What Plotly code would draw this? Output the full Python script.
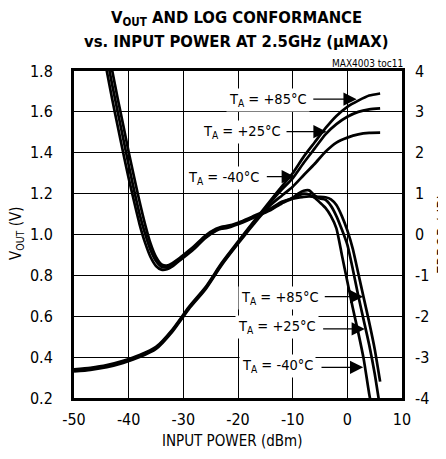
import plotly.graph_objects as go

# ---- data ----
pin_v = [-50, -47, -44, -41, -38, -35, -32, -29, -26, -23, -20, -17, -14, -12, -10, -8, -6, -4, -2, 0, 2, 4, 6]
vout_p85 = [0.340, 0.348, 0.361, 0.382, 0.410, 0.450, 0.535, 0.645, 0.740, 0.860, 0.965, 1.068, 1.168, 1.235, 1.300, 1.380, 1.450, 1.520, 1.580, 1.625, 1.655, 1.680, 1.690]
vout_p25 = [0.335, 0.343, 0.356, 0.377, 0.405, 0.445, 0.530, 0.640, 0.735, 0.855, 0.960, 1.063, 1.160, 1.220, 1.275, 1.350, 1.420, 1.490, 1.540, 1.576, 1.600, 1.612, 1.617]
vout_m40 = [0.330, 0.338, 0.351, 0.372, 0.400, 0.440, 0.525, 0.635, 0.730, 0.850, 0.955, 1.055, 1.145, 1.190, 1.234, 1.290, 1.345, 1.405, 1.450, 1.474, 1.490, 1.497, 1.498]

pin_e = [-45, -44, -43, -42, -41, -40, -39, -38, -37, -36, -35, -34, -33, -32, -31, -30, -28, -26, -24, -23, -22,
         -20, -18, -16, -14, -12, -10, -9, -8, -7, -6, -5, -4, -3, -2, -1, 0, 1, 2, 3, 4, 5, 6]
err_p85 = [5.40, 4.70, 4.00, 3.32, 2.68, 2.02, 1.40, 0.80, 0.25, -0.22, -0.55, -0.73, -0.76, -0.70, -0.61, -0.50, -0.28, -0.03, 0.14, 0.19, 0.21,
           0.29, 0.40, 0.52, 0.64, 0.80, 0.88, 0.90, 0.92, 0.93, 0.92, 0.92, 0.91, 0.86, 0.72, 0.45, 0.10, -0.35, -0.95, -1.55, -2.15, -2.80, -3.60]
err_p25 = [5.05, 4.35, 3.65, 3.00, 2.35, 1.70, 1.08, 0.50, 0.02, -0.38, -0.65, -0.79, -0.80, -0.73, -0.63, -0.53, -0.31, -0.05, 0.12, 0.17, 0.19,
           0.27, 0.38, 0.50, 0.62, 0.78, 0.90, 1.00, 1.07, 1.08, 0.96, 0.88, 0.85, 0.70, 0.45, 0.12, -0.25, -0.85, -1.50, -2.10, -2.70, -3.40, -4.25]
err_m40 = [4.70, 4.00, 3.30, 2.65, 2.00, 1.38, 0.80, 0.25, -0.20, -0.55, -0.77, -0.86, -0.85, -0.78, -0.67, -0.57, -0.35, -0.09, 0.09, 0.14, 0.16,
           0.25, 0.36, 0.48, 0.60, 0.76, 0.88, 0.95, 1.00, 0.98, 0.90, 0.78, 0.65, 0.45, 0.15, -0.50, -1.15, -1.80, -2.40, -3.05, -3.90, -4.60, -5.30]

x_ticks = [-50, -40, -30, -20, -10, 0, 10]
v_ticks = [0.2, 0.4, 0.6, 0.8, 1.0, 1.2, 1.4, 1.6, 1.8]
e_ticks = [-4, -3, -2, -1, 0, 1, 2, 3, 4]

FONT = "DejaVu Sans Condensed, Liberation Sans Narrow, sans-serif"
LW = 2.7

fig = go.Figure()
for ys in (vout_p85, vout_p25, vout_m40):
    fig.add_trace(go.Scatter(x=pin_v, y=ys, mode="lines", line=dict(color="black", width=LW, shape="spline", smoothing=0.6),
                             showlegend=False, hoverinfo="skip"))
for ys in (err_p85, err_p25, err_m40):
    fig.add_trace(go.Scatter(x=pin_e, y=ys, yaxis="y2", mode="lines", line=dict(color="black", width=LW, shape="spline", smoothing=0.6),
                             showlegend=False, hoverinfo="skip"))

# the page has an 8px body margin, so the figure is 8px smaller and margins 8px less
fig.update_layout(
    width=438, height=451,
    margin=dict(l=66, r=44, t=63, b=61),
    paper_bgcolor="white", plot_bgcolor="white",
    font=dict(family=FONT, size=16, color="black"),
    xaxis=dict(range=[-50, 10], tickvals=x_ticks, ticktext=[str(t) for t in x_ticks],
               showgrid=True, gridcolor="black", gridwidth=1, zeroline=False,
               showline=True, linecolor="black", linewidth=3, mirror=True, ticks="",
               tickfont=dict(size=16), ticklabelstandoff=5),
    yaxis=dict(range=[0.2, 1.8], tickvals=v_ticks, ticktext=["%.1f" % t for t in v_ticks],
               showgrid=True, gridcolor="black", gridwidth=1, zeroline=False,
               showline=True, linecolor="black", linewidth=3, mirror=True, ticks="",
               tickfont=dict(size=16), ticklabelstandoff=15),
    yaxis2=dict(range=[-4, 4], tickvals=e_ticks, ticktext=[str(t) for t in e_ticks],
                overlaying="y", side="right", showgrid=False, zeroline=False, ticks="",
                tickfont=dict(size=16), ticklabelstandoff=12),
)

def pap(px, py):
    return (px - 74) / 328.0, (398 - py) / 327.0

# title (two lines)
for txt, py in (("V<sub>OUT</sub> AND LOG CONFORMANCE", 19), ("vs. INPUT POWER AT 2.5GHz (μMAX)", 41)):
    x, y = pap(236, py)
    fig.add_annotation(x=x, y=y, xref="paper", yref="paper", text=txt, showarrow=False,
                       xanchor="center", yanchor="middle",
                       font=dict(size=16.5, family=FONT, weight="bold"))

# axis titles
x, y = pap(232, 441)
fig.add_annotation(x=x, y=y, xref="paper", yref="paper", text="INPUT POWER (dBm)", showarrow=False,
                   xanchor="center", yanchor="middle", font=dict(size=15, family=FONT))
x, y = pap(16, 234)
fig.add_annotation(x=x, y=y, xref="paper", yref="paper", text="V<sub>OUT</sub> (V)", showarrow=False,
                   textangle=-90, xanchor="center", yanchor="middle", font=dict(size=15, family=FONT))
x, y = pap(444, 234)
fig.add_annotation(x=x, y=y, xref="paper", yref="paper", text="ERROR (dB)", showarrow=False,
                   textangle=-90, xanchor="center", yanchor="middle", font=dict(size=15, family=FONT))

# temperature labels
labels = [
    ("T<sub>A</sub> = +85°C", -14.5, 1.658),
    ("T<sub>A</sub> = +25°C", -19.3, 1.500),
    ("T<sub>A</sub> = -40°C", -22.7, 1.277),
    ("T<sub>A</sub> = +85°C", -12.3, 0.690),
    ("T<sub>A</sub> = +25°C", -12.9, 0.545),
    ("T<sub>A</sub> = -40°C", -12.7, 0.355),
]
for txt, x, y in labels:
    fig.add_annotation(x=x, y=y, xref="x", yref="y", text=txt, showarrow=False,
                       font=dict(size=14.5, family=FONT), bgcolor="white", borderpad=2)

arrows = [
    (-6.5, 1.662, 1.7, 1.662),
    (-11.4, 1.503, -3.8, 1.503),
    (-15.0, 1.283, -9.6, 1.283),
    (-4.4, 0.696, 2.9, 0.696),
    (-4.7, 0.538, 3.2, 0.538),
    (-5.0, 0.350, 2.9, 0.350),
]
for ax_, ay_, x, y in arrows:
    fig.add_annotation(x=x, y=y, ax=ax_, ay=ay_, xref="x", yref="y", axref="x", ayref="y",
                       text="", showarrow=True, arrowhead=2, arrowsize=2.2, arrowwidth=1.2, arrowcolor="black")

x, y = pap(405, 63)
fig.add_annotation(x=x, y=y, xref="paper", yref="paper", xanchor="right", yanchor="middle",
                   text="MAX4003 toc11", showarrow=False, font=dict(size=10, family=FONT))

fig.write_html("out.html")
